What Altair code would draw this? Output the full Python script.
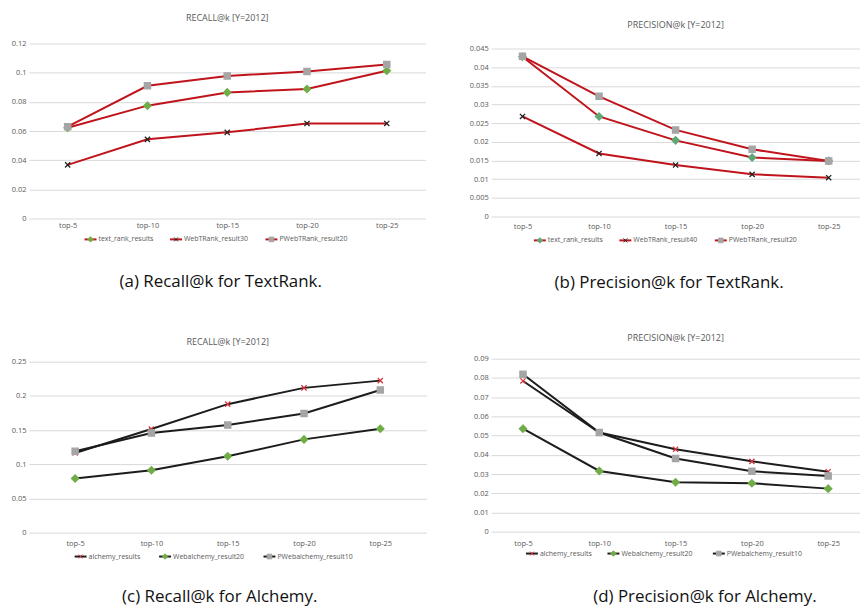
import altair as alt
import pandas as pd

categories = ["top-5", "top-10", "top-15", "top-20", "top-25"]

# (a) Recall@k for TextRank
a_names = ["text_rank_results", "WebTRank_result30", "PWebTRank_result20"]
a_text_rank_results = [0.0623, 0.0774, 0.0865, 0.0888, 0.1014]
a_webtrank_result30 = [0.0368, 0.0543, 0.0591, 0.0652, 0.0652]
a_pwebtrank_result20 = [0.0630, 0.0910, 0.0978, 0.1008, 0.1057]
a_ticks = [0, 0.02, 0.04, 0.06, 0.08, 0.1, 0.12]

# (b) Precision@k for TextRank
b_names = ["text_rank_results", "WebTRank_result40", "PWebTRank_result20"]
b_text_rank_results = [0.0428, 0.0268, 0.0204, 0.0158, 0.0149]
b_webtrank_result40 = [0.0268, 0.0169, 0.0138, 0.0113, 0.0104]
b_pwebtrank_result20 = [0.0429, 0.0322, 0.0232, 0.0180, 0.0149]
b_ticks = [0, 0.005, 0.01, 0.015, 0.02, 0.025, 0.03, 0.035, 0.04, 0.045]

# (c) Recall@k for Alchemy
c_names = ["alchemy_results", "Webalchemy_result20", "PWebalchemy_result10"]
c_alchemy_results = [0.1165, 0.1515, 0.1879, 0.2117, 0.2223]
c_webalchemy_result20 = [0.0791, 0.0913, 0.1117, 0.1364, 0.1520]
c_pwebalchemy_result10 = [0.1190, 0.1456, 0.1573, 0.1743, 0.2087]
c_ticks = [0, 0.05, 0.1, 0.15, 0.2, 0.25]

# (d) Precision@k for Alchemy
d_names = ["alchemy_results", "Webalchemy_result20", "PWebalchemy_result10"]
d_alchemy_results = [0.0784, 0.0516, 0.0429, 0.0366, 0.0312]
d_webalchemy_result20 = [0.0536, 0.0316, 0.0257, 0.0252, 0.0224]
d_pwebalchemy_result10 = [0.0819, 0.0516, 0.0381, 0.0314, 0.0290]
d_ticks = [0, 0.01, 0.02, 0.03, 0.04, 0.05, 0.06, 0.07, 0.08, 0.09]

FONT = "Open Sans"
TXT = "#595959"
GRID = "#d9d9d9"
RED_LINE = "#c0141c"
BLACK_LINE = "#1c1c1c"
GREEN = "#70ad47"
GRAY = "#a5a5a5"
DIAMOND = "M0,-0.42L0.42,0L0,0.42L-0.42,0Z"
SQUARE = "M-0.36,-0.36H0.36V0.36H-0.36Z"
XMARK = "M-0.3,-0.3L0.3,0.3M-0.3,0.3L0.3,-0.3"


def panel(title, names, series, ticks, ymax, line_color, shapes, mcolors,
          width, height, xpadding, xlabpad, title_offset, legend_pos,
          caption, cx, cy):
    x = alt.X("k:N", sort=categories,
              scale=alt.Scale(type="point", padding=xpadding),
              axis=alt.Axis(title=None, labelAngle=0, ticks=False, domain=False, grid=False,
                            labelPadding=xlabpad, labelFont=FONT, labelFontSize=7.5,
                            labelColor=TXT))
    y = alt.Y("value:Q", scale=alt.Scale(domain=[0, ymax], nice=False, zero=True),
              axis=alt.Axis(title=None, values=ticks, labelExpr="toString(datum.value)",
                            grid=True, gridColor=GRID, gridWidth=1, domain=False, ticks=False,
                            labelPadding=3, labelFont=FONT, labelFontSize=7.5,
                            labelColor=TXT))
    line_layers = []
    point_layers = []
    for i, (name, vals) in enumerate(zip(names, series)):
        df = pd.DataFrame({"k": categories, "value": vals,
                           "series": [name] * len(vals), "lseries": ["L:" + name] * len(vals)})
        lx, ly = legend_pos[i]
        line_legend = alt.Legend(orient="none", legendX=lx, legendY=ly, title=None,
                                 direction="horizontal", symbolType="stroke", symbolSize=144,
                                 symbolStrokeWidth=2, labelFont=FONT, labelFontSize=7,
                                 labelColor=TXT, labelOffset=1, labelLimit=300,
                                 labelExpr="slice(datum.label, 2)")
        mark_legend = alt.Legend(orient="none", legendX=lx, legendY=ly, title=None,
                                 direction="horizontal", symbolSize=169, symbolStrokeWidth=1,
                                 labelFontSize=7, labelOffset=1, labelExpr="''")
        line_layers.append(alt.Chart(df).mark_line(strokeWidth=2).encode(
            x=x, y=y,
            color=alt.Color("lseries:N",
                            scale=alt.Scale(domain=["L:" + name], range=[line_color]),
                            legend=line_legend),
        ))
        point_layers.append(alt.Chart(df).mark_point(
            filled=True, size=300, strokeWidth=1.3, opacity=1).encode(
            x=x, y=y,
            shape=alt.Shape("series:N", scale=alt.Scale(domain=[name], range=[shapes[i]]),
                            legend=mark_legend),
            fill=alt.Fill("series:N", scale=alt.Scale(domain=[name], range=[mcolors[i]]),
                          legend=mark_legend),
            stroke=alt.Stroke("series:N", scale=alt.Scale(domain=[name], range=[mcolors[i]]),
                              legend=mark_legend),
        ))
    cap = alt.Chart(pd.DataFrame({"t": [caption]})).mark_text(
        font=FONT, fontSize=17, color="#111111", align="center", baseline="middle"
    ).encode(text="t:N", x=alt.value(cx), y=alt.value(cy))

    return alt.layer(*line_layers, *point_layers, cap).resolve_scale(
        color="independent", shape="independent", fill="independent", stroke="independent"
    ).properties(
        width=width, height=height,
        title=alt.TitleParams(title, offset=title_offset, font=FONT, fontSize=9,
                              fontWeight="normal", color=TXT, anchor="middle"),
    )


a = panel("RECALL@k [Y=2012]", a_names,
          [a_text_rank_results, a_webtrank_result30, a_pwebtrank_result20], a_ticks, 0.12,
          RED_LINE, [DIAMOND, XMARK, SQUARE], [GREEN, "#222222", GRAY],
          399, 176, 0.486, 3, 17,
          [(55, 190), (141, 190), (237, 190)],
          "(a) Recall@k for TextRank.", 193, 240)
b = panel("PRECISION@k [Y=2012]", b_names,
          [b_text_rank_results, b_webtrank_result40, b_pwebtrank_result20], b_ticks, 0.04633,
          RED_LINE, [DIAMOND, XMARK, SQUARE], ["#5fa875", "#222222", GRAY],
          371, 174, 0.409, 6, 14,
          [(42, 191), (128, 191), (224, 191)],
          "(b) Precision@k for TextRank.", 179, 241)
c = panel("RECALL@k [Y=2012]", c_names,
          [c_alchemy_results, c_webalchemy_result20, c_pwebalchemy_result10], c_ticks, 0.25436,
          BLACK_LINE, [XMARK, DIAMOND, SQUARE], ["#d9363e", GREEN, GRAY],
          400, 175, 0.606, 7, 11,
          [(45, 192), (130, 192), (235, 192)],
          "(c) Recall@k for Alchemy.", 192, 240)
d = panel("PRECISION@k [Y=2012]", d_names,
          [d_alchemy_results, d_webalchemy_result20, d_pwebalchemy_result10], d_ticks, 0.09,
          BLACK_LINE, [XMARK, DIAMOND, SQUARE], ["#d9363e", GREEN, GRAY],
          371, 174, 0.417, 8, 12,
          [(34, 189), (116, 189), (222, 189)],
          "(d) Precision@k for Alchemy.", 215, 240)

chart = alt.concat(
    a, b, c, d, columns=2, bounds="flush", spacing={"row": 141, "column": 65}
).resolve_scale(
    x="independent", y="independent", color="independent", fill="independent",
    stroke="independent", shape="independent"
).properties(
    padding={"left": 3, "top": 4, "right": 0, "bottom": 0}
).configure_view(stroke=None)

chart.save("out.html", embed_options={"renderer": "svg", "actions": False})
